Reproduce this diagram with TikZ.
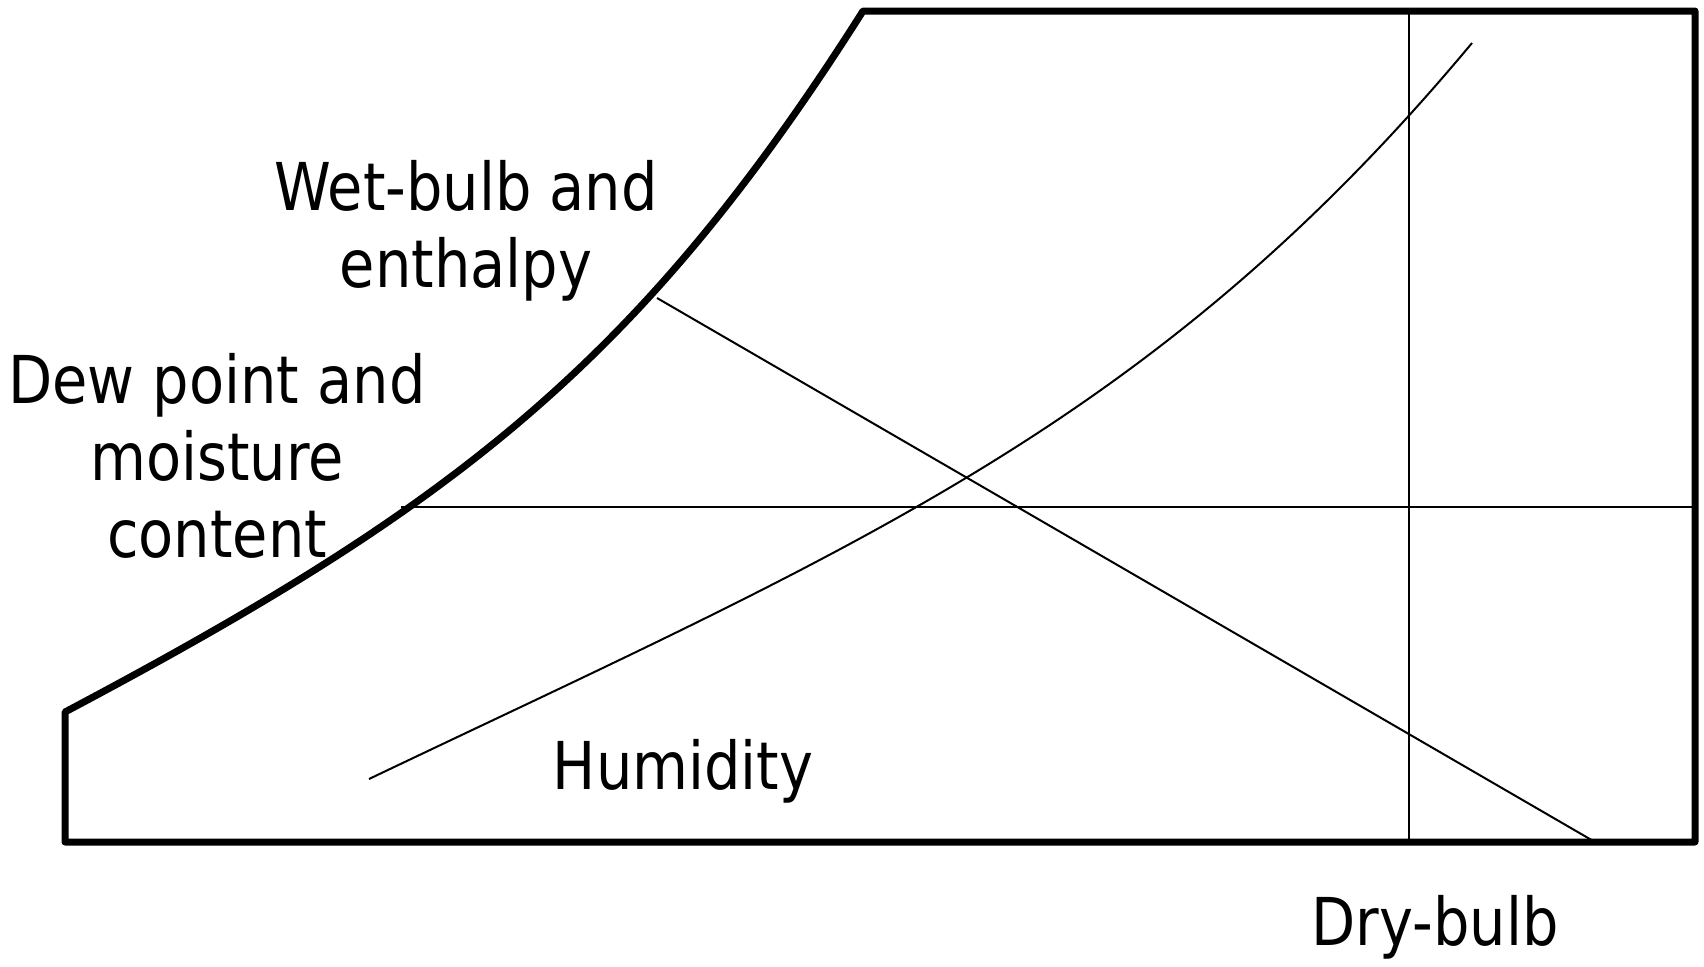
\documentclass[tikz,border=0pt]{standalone}
\usepackage{fontspec}
\setmainfont{DejaVu Sans}[FakeStretch=0.87]
\usetikzlibrary{positioning}
\tikzset{
    frame/.style={draw, line width=3.5pt, line join=round},
    thinline/.style={draw, line width=1pt},
    chartlabel/.style={inner sep=0pt, align=center, font={\fontsize{33}{38.5}\selectfont}}
}
\begin{document}
\begin{tikzpicture}[x=0.5pt, y=-0.5pt]
    \useasboundingbox (0,0) rectangle (1704,966);

    % Saturation curve and frame
    \draw[frame] (65,842) -- (65,712) .. controls (450,508) and (638,366) .. (863,11)
        -- (1695,11) -- (1695,842) -- cycle;

    % Line ends
    \coordinate (dew) at (401,507);
    \coordinate (dewend) at (1695,507);
    \coordinate (wet) at (657,298);
    \coordinate (wetend) at (1595,842);
    \coordinate (dry) at (1409,11);
    \coordinate (dryend) at (1409,842);
    \coordinate (hum) at (369,779);
    \coordinate (humend) at (1472,43);

    % Lines
    \draw[thinline] (dew) -- (dewend);
    \draw[thinline] (wet) -- (wetend);
    \draw[thinline] (dry) -- (dryend);
    \draw[thinline] (hum) .. controls (849,550) and (1152,427) .. (humend);

    % Labels
    \node[chartlabel, anchor=north] (wetlbl) at (466,160) {Wet-bulb and\\enthalpy};
    \node[chartlabel, anchor=north] (dewlbl) at (217,353) {Dew point and\\moisture\\content};
    \node[chartlabel, anchor=base] (humlbl) at (683,789) {Humidity};
    \node[chartlabel, anchor=base] (drylbl) at (1435,945) {Dry-bulb};
\end{tikzpicture}
\end{document}
